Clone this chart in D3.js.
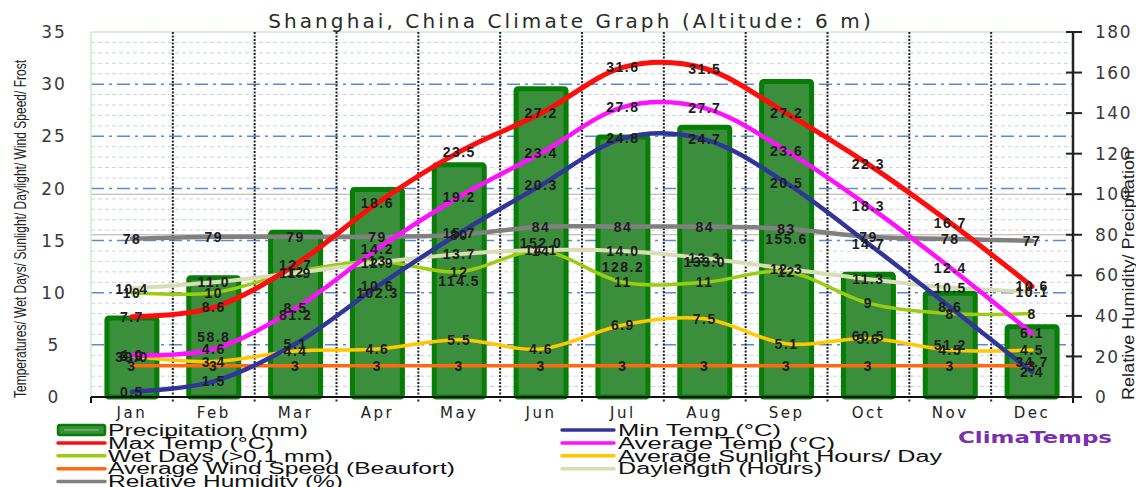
<!DOCTYPE html>
<html>
<head>
<meta charset="utf-8">
<script src="https://cdn.jsdelivr.net/npm/d3@7"></script>
<style>
  html, body { margin: 0; padding: 0; background: #fff; }
  svg { display: block; }
</style>
</head>
<body>
<svg id="chart" width="1136" height="487"></svg>
<script>
// Monthly climate normals for Shanghai
const months = ["Jan", "Feb", "Mar", "Apr", "May", "Jun", "Jul", "Aug", "Sep", "Oct", "Nov", "Dec"];
const precipitation = [39.0, 58.8, 81.2, 102.3, 114.5, 152.0, 128.2, 133.0, 155.6, 60.5, 51.2, 34.7];
const maxTemp = [7.7, 8.6, 12.7, 18.6, 23.5, 27.2, 31.6, 31.5, 27.2, 22.3, 16.7, 10.6];
const minTemp = [0.5, 1.5, 5.1, 10.6, 15.7, 20.3, 24.8, 24.7, 20.5, 14.7, 8.6, 2.4];
const avgTemp = [4.0, 4.6, 8.5, 14.2, 19.2, 23.4, 27.8, 27.7, 23.6, 18.3, 12.4, 6.1];
const wetDays = [10, 10, 12, 13, 12, 14, 11, 11, 12, 9, 8, 8];
const sunlight = [3.9, 3.4, 4.4, 4.6, 5.5, 4.6, 6.9, 7.5, 5.1, 5.6, 4.5, 4.5];
const windSpeed = [3, 3, 3, 3, 3, 3, 3, 3, 3, 3, 3, 3];
const daylength = [10.4, 11.0, 11.9, 12.9, 13.7, 14.1, 14.0, 13.3, 12.3, 11.3, 10.5, 10.1];
const humidity = [78, 79, 79, 79, 80, 84, 84, 84, 83, 79, 78, 77];

const leftTicks = [0, 5, 10, 15, 20, 25, 30, 35];
const rightTicks = [0, 20, 40, 60, 80, 100, 120, 140, 160, 180];

const svg = d3.select("#chart");
const plot = { left: 91, right: 1073, top: 32, bottom: 397 };

const x = d3.scaleBand().domain(months).range([plot.left, plot.right]).padding(0);
const cx = m => x(m) + x.bandwidth() / 2;
const yL = d3.scaleLinear().domain([0, 35]).range([plot.bottom, plot.top]);
const yR = d3.scaleLinear().domain([0, 180]).range([plot.bottom, plot.top]);

// ---- grid ----
const grid = svg.append("g");
d3.range(1, 35).filter(v => v % 5 !== 0).forEach(v => {
  grid.append("line")
    .attr("x1", plot.left).attr("x2", plot.right)
    .attr("y1", yL(v)).attr("y2", yL(v))
    .attr("stroke", "#c9d3e6").attr("stroke-width", 1)
    .attr("stroke-dasharray", "4,3");
});
[5, 10, 15, 20, 25, 30].forEach(v => {
  grid.append("line")
    .attr("x1", plot.left).attr("x2", plot.right)
    .attr("y1", yL(v)).attr("y2", yL(v))
    .attr("stroke", "#5a8ad6").attr("stroke-width", 1.5)
    .attr("stroke-dasharray", "13,5,3,5");
});
[80, 100].forEach(v => {
  grid.append("line")
    .attr("x1", plot.left).attr("x2", plot.right)
    .attr("y1", yR(v)).attr("y2", yR(v))
    .attr("stroke", "#b9aa9a").attr("stroke-width", 1);
});
// plot border (top / left)
grid.append("line").attr("x1", plot.left).attr("x2", plot.right)
  .attr("y1", plot.top).attr("y2", plot.top).attr("stroke", "#cdeccd").attr("stroke-width", 1.5);
grid.append("line").attr("x1", plot.left).attr("x2", plot.left)
  .attr("y1", plot.top).attr("y2", plot.bottom).attr("stroke", "#cdeccd").attr("stroke-width", 1.5);

// ---- precipitation bars ----
const barW = 50;
svg.append("g").selectAll("rect").data(months).join("rect")
  .attr("x", m => cx(m) - barW / 2)
  .attr("y", (m, i) => yR(precipitation[i]))
  .attr("width", barW)
  .attr("height", (m, i) => plot.bottom - yR(precipitation[i]))
  .attr("rx", 2)
  .attr("fill", "#3b8e3b")
  .attr("stroke", "#067e06")
  .attr("stroke-width", 5);

// month separators (dotted)
const sep = svg.append("g");
d3.range(1, 12).forEach(k => {
  const xx = plot.left + k * x.bandwidth();
  sep.append("line").attr("x1", xx).attr("x2", xx)
    .attr("y1", plot.top).attr("y2", plot.bottom + 6)
    .attr("stroke", "#222").attr("stroke-width", 2)
    .attr("stroke-dasharray", "2,1.5");
});

// ---- lines ----
const curve = d3.curveCardinal.tension(0);
const lineL = d3.line().x((d, i) => cx(months[i])).y(d => yL(d)).curve(curve);
const lineR = d3.line().x((d, i) => cx(months[i])).y(d => yR(d)).curve(curve);

const series = [
  { data: windSpeed, axis: "L", color: "#ff6a10", width: 3.5 },
  { data: sunlight, axis: "L", color: "#ffc800", width: 3.5 },
  { data: wetDays, axis: "L", color: "#9acd10", width: 3.5 },
  { data: daylength, axis: "L", color: "#d9ddb6", width: 4 },
  { data: humidity, axis: "R", color: "#808080", width: 4.5 },
  { data: minTemp, axis: "L", color: "#31359a", width: 4.5 },
  { data: avgTemp, axis: "L", color: "#ff10ff", width: 4.5 },
  { data: maxTemp, axis: "L", color: "#ff0d0d", width: 5 }
];
const linesG = svg.append("g").attr("fill", "none").attr("stroke-linecap", "round");
series.forEach(s => {
  linesG.append("path")
    .attr("d", (s.axis === "L" ? lineL : lineR)(s.data))
    .attr("stroke", s.color).attr("stroke-width", s.width);
});

// ---- value labels ----
const f1 = d3.format(".1f");
const fi = d3.format("d");
const labelSets = [
  { data: precipitation, y: v => yR(v / 2), fmt: f1 },
  { data: windSpeed, y: v => yL(v), fmt: fi },
  { data: sunlight, y: v => yL(v), fmt: f1 },
  { data: wetDays, y: v => yL(v), fmt: fi },
  { data: daylength, y: v => yL(v), fmt: f1 },
  { data: humidity, y: v => yR(v), fmt: fi },
  { data: minTemp, y: v => yL(v), fmt: f1 },
  { data: avgTemp, y: v => yL(v), fmt: f1 },
  { data: maxTemp, y: v => yL(v), fmt: f1 }
];
const labelsG = svg.append("g")
  .attr("font-family", "'Liberation Sans', Arial, sans-serif")
  .attr("font-size", 14).attr("font-weight", "bold")
  .attr("letter-spacing", 1.5)
  .attr("fill", "#1c1c1c").attr("text-anchor", "middle");
labelSets.forEach(s => {
  s.data.forEach((v, i) => {
    labelsG.append("text")
      .attr("x", cx(months[i]))
      .attr("y", s.y(v))
      .attr("dy", "0.36em")
      .text(s.fmt(v));
  });
});

// ---- axes ----
// bottom
const xAxis = svg.append("g");
xAxis.append("line").attr("x1", plot.left).attr("x2", plot.right)
  .attr("y1", plot.bottom).attr("y2", plot.bottom)
  .attr("stroke", "#111").attr("stroke-width", 2);
[0, 12].forEach(k => {
  const xx = plot.left + k * x.bandwidth();
  xAxis.append("line").attr("x1", xx).attr("x2", xx)
    .attr("y1", plot.bottom).attr("y2", plot.bottom + 6)
    .attr("stroke", "#111").attr("stroke-width", 2);
});
xAxis.selectAll("text").data(months).join("text")
  .attr("x", m => cx(m)).attr("y", 413).attr("dy", "0.35em")
  .attr("text-anchor", "middle")
  .attr("font-family", "'DejaVu Sans', Verdana, sans-serif")
  .attr("font-size", 15).attr("letter-spacing", 2.5)
  .attr("fill", "#222")
  .text(m => m);

// left tick labels
svg.append("g").selectAll("text").data(leftTicks).join("text")
  .attr("x", 54).attr("y", v => yL(v)).attr("dy", "0.36em")
  .attr("text-anchor", "middle")
  .attr("font-family", "'DejaVu Sans', Verdana, sans-serif")
  .attr("font-size", 17).attr("letter-spacing", 2)
  .attr("fill", "#3a3a3a")
  .text(v => v);

// right axis
const rAxis = svg.append("g");
rAxis.append("line").attr("x1", plot.right).attr("x2", plot.right)
  .attr("y1", plot.top).attr("y2", plot.bottom)
  .attr("stroke", "#222").attr("stroke-width", 2.5);
rAxis.selectAll("line.tick").data(rightTicks).join("line")
  .attr("class", "tick")
  .attr("x1", plot.right - 7).attr("x2", plot.right + 9)
  .attr("y1", v => yR(v)).attr("y2", v => yR(v))
  .attr("stroke", "#222").attr("stroke-width", 2);
rAxis.selectAll("text").data(rightTicks).join("text")
  .attr("x", 1095).attr("y", v => yR(v)).attr("dy", "0.36em")
  .attr("font-family", "'DejaVu Sans', Verdana, sans-serif")
  .attr("font-size", 17).attr("letter-spacing", 1.5)
  .attr("fill", "#3a3a3a")
  .text(v => v);

// axis titles
svg.append("text")
  .attr("transform", "translate(26,398) rotate(-90)")
  .attr("font-family", "'Liberation Sans', Arial, sans-serif")
  .attr("font-size", 16.5).attr("fill", "#222")
  .attr("textLength", 338).attr("lengthAdjust", "spacingAndGlyphs")
  .text("Temperatures/ Wet Days/ Sunlight/ Daylight/ Wind Speed/ Frost");
svg.append("text")
  .attr("transform", "translate(1134,400) rotate(-90)")
  .attr("font-family", "'Liberation Sans', Arial, sans-serif")
  .attr("font-size", 16).attr("fill", "#222")
  .attr("textLength", 250).attr("lengthAdjust", "spacingAndGlyphs")
  .text("Relative Humidity/ Precipitation");

// title
svg.append("text")
  .attr("x", 571).attr("y", 28)
  .attr("text-anchor", "middle")
  .attr("font-family", "'DejaVu Sans', Verdana, sans-serif")
  .attr("font-size", 20).attr("letter-spacing", 3.1)
  .attr("fill", "#2a2a2a")
  .text("Shanghai, China Climate Graph (Altitude: 6 m)");

// ---- legend ----
const legendItems = [
  { label: "Precipitation (mm)", color: "#3b8e3b", bar: true, col: 0, row: 0 },
  { label: "Max Temp (°C)", color: "#ff0d0d", col: 0, row: 1 },
  { label: "Wet Days (>0.1 mm)", color: "#9acd10", col: 0, row: 2 },
  { label: "Average Wind Speed (Beaufort)", color: "#ff6a10", col: 0, row: 3 },
  { label: "Relative Humidity (%)", color: "#808080", col: 0, row: 4 },
  { label: "Min Temp (°C)", color: "#31359a", col: 1, row: 0 },
  { label: "Average Temp (°C)", color: "#ff10ff", col: 1, row: 1 },
  { label: "Average Sunlight Hours/ Day", color: "#ffc800", col: 1, row: 2 },
  { label: "Daylength (Hours)", color: "#d9ddb6", col: 1, row: 3 }
];
// rendered text widths of the stretched legend font
const legendTextWidth = {
  "Precipitation (mm)": 200, "Max Temp (°C)": 166, "Wet Days (>0.1 mm)": 225,
  "Average Wind Speed (Beaufort)": 347, "Relative Humidity (%)": 235,
  "Min Temp (°C)": 163, "Average Temp (°C)": 217,
  "Average Sunlight Hours/ Day": 324, "Daylength (Hours)": 204
};
const colX = [{ s0: 58, s1: 105, t: 108 }, { s0: 562, s1: 614, t: 618 }];
const legend = svg.append("g");
legendItems.forEach(it => {
  const c = colX[it.col];
  const yy = 430 + it.row * 12.9;
  if (it.bar) {
    legend.append("rect").attr("x", c.s0).attr("y", yy - 5).attr("width", c.s1 - c.s0).attr("height", 10)
      .attr("rx", 2).attr("fill", it.color).attr("stroke", "#067e06").attr("stroke-width", 2.5);
    legend.append("line").attr("x1", c.s0 + 6).attr("x2", c.s1 - 6).attr("y1", yy).attr("y2", yy)
      .attr("stroke", "#8fc08f").attr("stroke-width", 1);
  } else {
    legend.append("line").attr("x1", c.s0).attr("x2", c.s1).attr("y1", yy).attr("y2", yy)
      .attr("stroke", it.color).attr("stroke-width", 3.5).attr("stroke-linecap", "round");
  }
  legend.append("text")
    .attr("x", c.t).attr("y", yy)
    .attr("dy", "0.36em")
    .attr("font-family", "'Liberation Sans', Arial, sans-serif")
    .attr("font-size", 16)
    .attr("textLength", legendTextWidth[it.label]).attr("lengthAdjust", "spacingAndGlyphs")
    .attr("fill", "#111")
    .text(it.label);
});
svg.append("text")
  .attr("x", 958).attr("y", 437).attr("dy", "0.36em")
  .attr("font-family", "'DejaVu Sans', Verdana, sans-serif")
  .attr("font-weight", "bold")
  .attr("font-size", 15.5)
  .attr("textLength", 154).attr("lengthAdjust", "spacingAndGlyphs")
  .attr("fill", "#7a2fb0")
  .text("ClimaTemps");
</script>
</body>
</html>
